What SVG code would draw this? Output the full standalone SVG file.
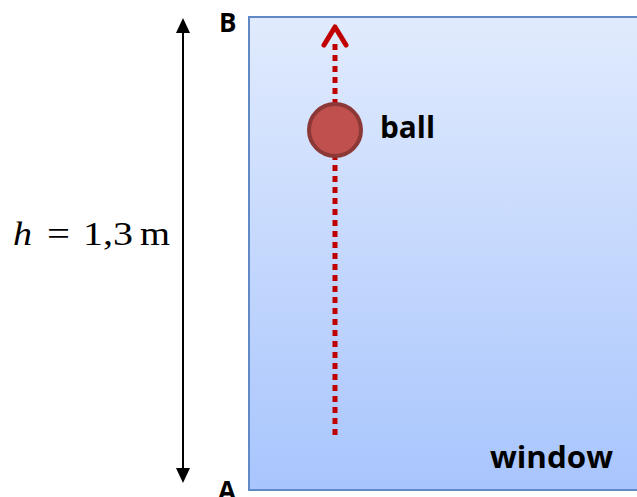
<svg xmlns="http://www.w3.org/2000/svg" width="637" height="497" viewBox="0 0 637 497">
<defs>
<linearGradient id="g" x1="0" y1="0" x2="0" y2="1">
<stop offset="0" stop-color="#e1ebfd"/>
<stop offset="1" stop-color="#a8c5fd"/>
</linearGradient>
<style>
.lbl{font-family:"Open Sans","Liberation Sans",sans-serif;font-weight:bold;fill:#000}
.math{font-family:"Liberation Serif","DejaVu Serif",serif;fill:#000;font-size:33px}
</style>
</defs>
<rect width="637" height="497" fill="#fff"/>
<g id="window">
<rect x="249" y="17" width="400" height="473" fill="url(#g)" stroke="#6089c6" stroke-width="2"/>
<text class="lbl" x="490" y="468" font-size="30" textLength="123" lengthAdjust="spacingAndGlyphs">window</text>
</g>
<g id="connectors">
<line x1="183" y1="30" x2="183" y2="470" stroke="#000" stroke-width="2"/>
<polygon points="183,18 190,33 176,33" fill="#000"/>
<polygon points="183,483 190,468 176,468" fill="#000"/>
<line x1="335" y1="44" x2="335" y2="438" stroke="#c00000" stroke-width="5" stroke-dasharray="6 5"/>
<polyline points="324,45 335,27 346,45" fill="none" stroke="#c00000" stroke-width="5" stroke-linecap="round" stroke-linejoin="round"/>
</g>
<g id="ball">
<circle cx="335" cy="130" r="26" fill="#c0504d" stroke="#8c3836" stroke-width="4"/>
<text class="lbl" x="380" y="138" font-size="30" textLength="55" lengthAdjust="spacingAndGlyphs">ball</text>
</g>
<g id="labels">
<text class="lbl" x="219" y="32" font-size="26">B</text>
<text class="lbl" x="218" y="500" font-size="26">A</text>
<text class="math"><tspan x="13" y="245" font-style="italic" textLength="19" lengthAdjust="spacingAndGlyphs">h</tspan><tspan x="47" y="245" textLength="23" lengthAdjust="spacingAndGlyphs">=</tspan><tspan x="83" y="245" textLength="50" lengthAdjust="spacingAndGlyphs">1,3</tspan><tspan x="140" y="245" textLength="30" lengthAdjust="spacingAndGlyphs">m</tspan></text>
</g>
</svg>
